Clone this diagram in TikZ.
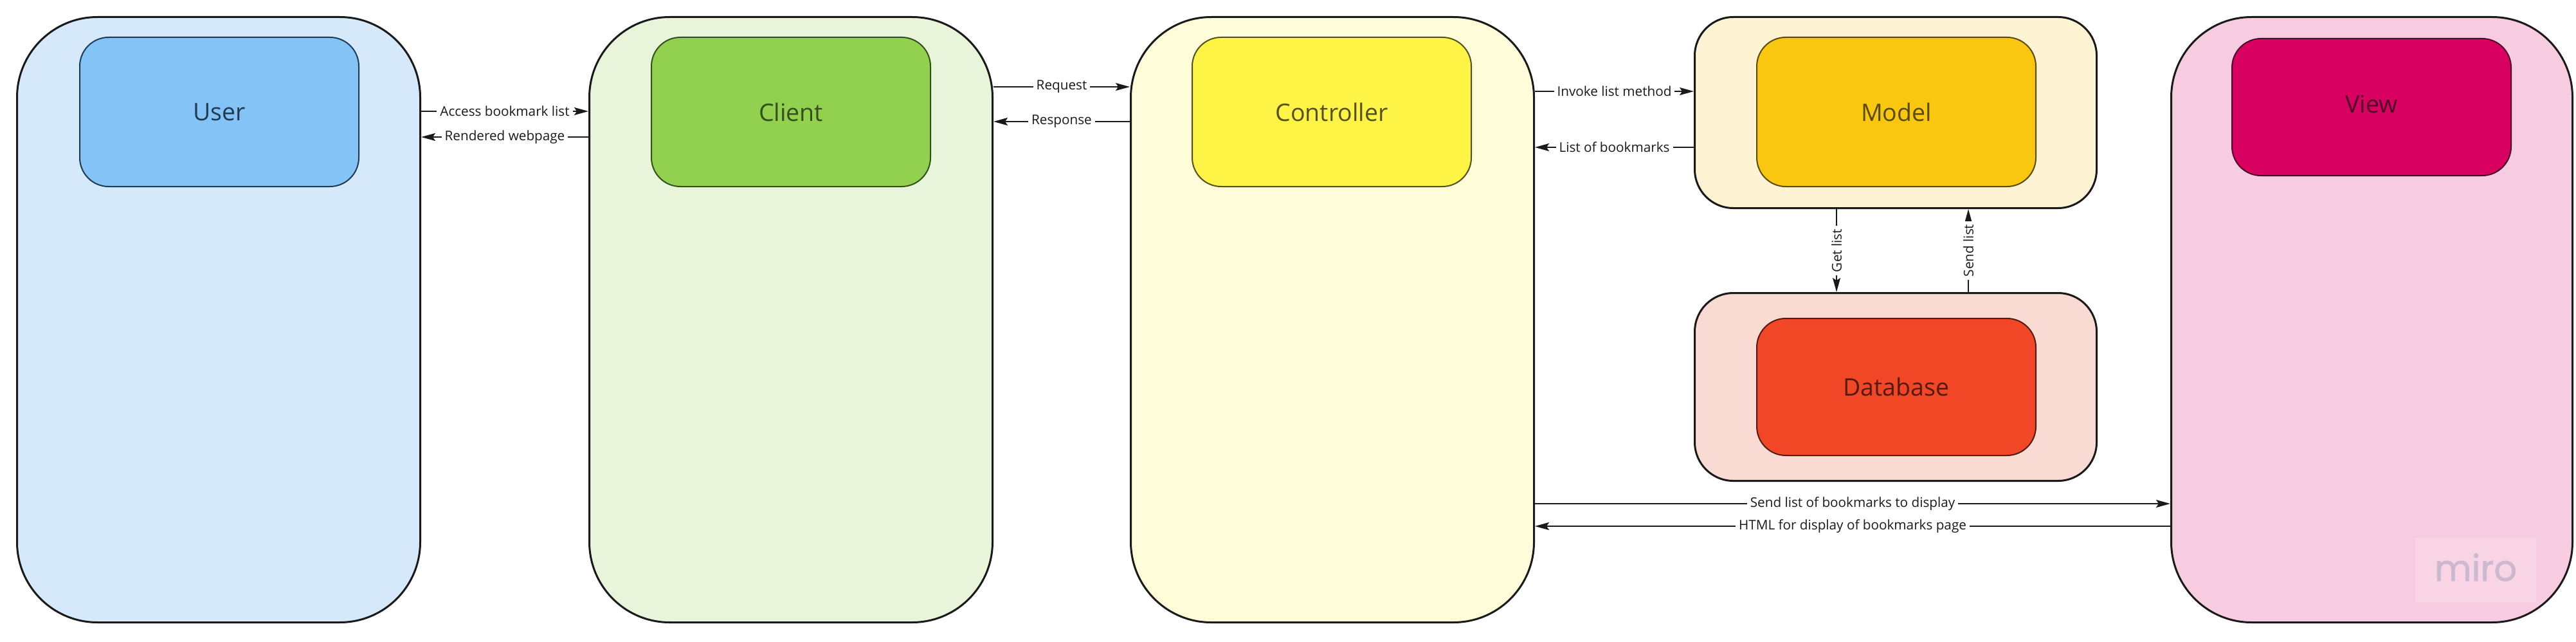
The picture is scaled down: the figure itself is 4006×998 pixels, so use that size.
\documentclass[tikz,border=0pt]{standalone}
\usepackage{fontspec}
\setmainfont{Open Sans}
\newfontfamily\mirofont{Poppins}[FakeBold=1.2]
\usetikzlibrary{arrows.meta}
\definecolor{outline}{HTML}{1A1A1A}
\definecolor{userbg}{HTML}{D5E9FA}
\definecolor{userfg}{HTML}{84C3F5}
\definecolor{userdk}{HTML}{1F3A52}
\definecolor{clientbg}{HTML}{E8F5DA}
\definecolor{clientfg}{HTML}{91D14F}
\definecolor{clientdk}{HTML}{33501B}
\definecolor{ctrlbg}{HTML}{FFFCD9}
\definecolor{ctrlfg}{HTML}{FEF445}
\definecolor{ctrldk}{HTML}{54501D}
\definecolor{modelbg}{HTML}{FEF4D4}
\definecolor{modelfg}{HTML}{FAC710}
\definecolor{modeldk}{HTML}{5A4A0A}
\definecolor{dbbg}{HTML}{FADBD4}
\definecolor{dbfg}{HTML}{F24726}
\definecolor{dbdk}{HTML}{521A10}
\definecolor{viewbg}{HTML}{F7CCE0}
\definecolor{viewfg}{HTML}{D80060}
\definecolor{viewdk}{HTML}{4D0A26}
\definecolor{mirobg}{HTML}{F8D4E5}
\definecolor{mirofg}{HTML}{CBB9CF}
\definecolor{linecol}{HTML}{1A1A1A}
\begin{document}
\begin{tikzpicture}[x=1pt,y=-1pt,
  outerbox/.style={draw=outline, line width=3pt, rectangle, rounded corners=125pt,
    anchor=north west, inner sep=0pt, minimum width=627pt, minimum height=941pt},
  smallouter/.style={outerbox, rounded corners=60pt, minimum width=625pt},
  innerbox/.style={rectangle, rounded corners=45pt, anchor=north west, inner sep=0pt,
    line width=2pt, minimum width=434pt, minimum height=232pt,
    font=\fontsize{37.5}{45}\selectfont},
  conn/.style={line width=2pt, draw=linecol, -{Stealth[length=22pt,width=12pt,inset=4pt]}},
  lbl/.style={fill=white, inner xsep=5pt, inner ysep=2pt, text=linecol,
    font=\fontsize{20.7}{24}\selectfont},
]
\useasboundingbox (0,0) rectangle (4006,998);
\fill[white] (0,0) rectangle (4006,998);

% outer containers
\node[outerbox, fill=userbg] (user) at (25,25) {};
\node[outerbox, fill=clientbg] (client) at (915,25) {};
\node[outerbox, fill=ctrlbg] (controller) at (1757,25) {};
\node[smallouter, fill=modelbg, minimum height=297pt] (model) at (2634,25) {};
\node[smallouter, fill=dbbg, minimum height=292pt] (database) at (2634,454) {};
\node[outerbox, fill=viewbg, minimum width=624pt] (view) at (3375,25) {};

% inner boxes
\node[innerbox, fill=userfg, draw=userdk, text=userdk] (userin) at (123,57) {User};
\node[innerbox, fill=clientfg, draw=clientdk, text=clientdk] (clientin) at (1012,57) {Client};
\node[innerbox, fill=ctrlfg, draw=ctrldk, text=ctrldk] (ctrlin) at (1853,57) {Controller};
\node[innerbox, fill=modelfg, draw=modeldk, text=modeldk] (modelin) at (2731,57) {Model};
\node[innerbox, fill=dbfg, draw=dbdk, text=dbdk, minimum height=213pt] (dbin) at (2731,494) {Database};
\node[innerbox, fill=viewfg, draw=viewdk, minimum height=213pt,
  label={[text=viewdk, font=\fontsize{37.5}{45}\selectfont, yshift=5pt]center:View}] (viewin) at (3470,59) {};

% watermark
\node[fill=mirobg, anchor=north west, minimum width=188pt, minimum height=100pt, inner sep=0pt] (mirobox) at (3756,836) {};
\node[anchor=base, text=mirofg, inner sep=0pt, font=\mirofont\fontsize{56}{60}\selectfont] (miro) at (3850,903) {miro};

% connectors
\draw[conn] (user.east |- 0,173) -- node[lbl]{Access bookmark list} (client.west |- 0,173);
\draw[conn] (client.west |- 0,213) -- node[lbl]{Rendered webpage} (user.east |- 0,213);
\draw[conn] (client.east |- 0,135) -- node[lbl]{Request} (controller.west |- 0,135);
\draw[conn] (controller.west |- 0,189) -- node[lbl]{Response} (client.east |- 0,189);
\draw[conn] (controller.east |- 0,142) -- node[lbl]{Invoke list method} (model.west |- 0,142);
\draw[conn] (model.west |- 0,229) -- node[lbl]{List of bookmarks} (controller.east |- 0,229);
\draw[conn] (model.south -| 2856,0) -- node[lbl, rotate=90]{Get list} (database.north -| 2856,0);
\draw[conn] (database.north -| 3061,0) -- node[lbl, rotate=90]{Send list} (model.south -| 3061,0);
\draw[conn] (controller.east |- 0,783) -- node[lbl]{Send list of bookmarks to display} (view.west |- 0,783);
\draw[conn] (view.west |- 0,818) -- node[lbl]{HTML for display of bookmarks page} (controller.east |- 0,818);
\end{tikzpicture}
\end{document}
